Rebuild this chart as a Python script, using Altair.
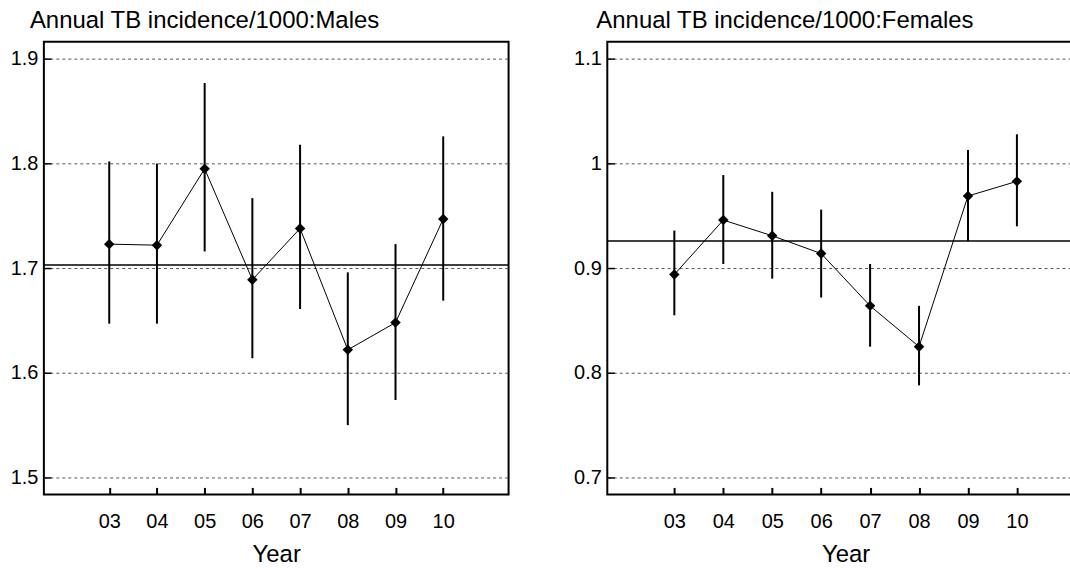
import altair as alt
import pandas as pd

# Survey years shown on the x axis
years = ["03", "04", "05", "06", "07", "08", "09", "10"]
year_num = [int(y) for y in years]

# Males: annual TB incidence per 1000 with 95% limits
males_rate = [1.723, 1.722, 1.795, 1.689, 1.738, 1.622, 1.648, 1.747]
males_lo = [1.647, 1.647, 1.716, 1.614, 1.661, 1.550, 1.574, 1.669]
males_hi = [1.802, 1.800, 1.877, 1.767, 1.818, 1.696, 1.723, 1.826]
males_mean = [1.703]
males_ticks = [1.5, 1.6, 1.7, 1.8, 1.9]

# Females: annual TB incidence per 1000 with 95% limits
females_rate = [0.894, 0.946, 0.931, 0.914, 0.864, 0.825, 0.969, 0.983]
females_lo = [0.855, 0.904, 0.890, 0.872, 0.825, 0.788, 0.926, 0.940]
females_hi = [0.936, 0.989, 0.973, 0.956, 0.904, 0.864, 1.013, 1.028]
females_mean = [0.926]
females_ticks = [0.7, 0.8, 0.9, 1.0, 1.1]

FONT = "Liberation Sans"
X_DOMAIN = [1.63, 11.37]


def panel(title, rate, lo, hi, mean, ticks, domain, width, title_dx):
    df = pd.DataFrame({"year": year_num, "rate": rate, "lo": lo, "hi": hi})
    mean_df = pd.DataFrame({"mean": mean})

    xaxis = alt.Axis(
        title="Year", values=year_num,
        labelExpr="(datum.value < 10 ? '0' : '') + datum.value",
        labelAngle=0, labelFontSize=20, labelColor="black",
        labelPadding=17, tickSize=7, offset=-7, tickWidth=2, tickColor="black",
        domain=False, grid=False, titleFontSize=24, titleFontWeight="normal",
        titleColor="black", titleY=74, titleBaseline="alphabetic",
    )
    yaxis = alt.Axis(
        title=None, values=ticks, format="~g", labelFontSize=20,
        labelColor="black", labelPadding=6, tickSize=7, offset=-7,
        tickWidth=1.5, tickColor="black", domain=False, grid=True,
        gridColor="#555555", gridDash=[3, 3], gridWidth=1,
    )
    xscale = alt.Scale(domain=X_DOMAIN, nice=False, zero=False)
    yscale = alt.Scale(domain=domain, nice=False, zero=False)

    x = alt.X("year:Q", scale=xscale, axis=xaxis)
    base = alt.Chart(df)

    hline = alt.Chart(mean_df).mark_rule(color="black", strokeWidth=1.5).encode(
        y=alt.Y("mean:Q", scale=yscale, axis=yaxis, title=None)
    )
    bars = base.mark_rule(color="black", strokeWidth=2).encode(
        x=x, y=alt.Y("lo:Q", scale=yscale, title=None), y2="hi:Q"
    )
    line = base.mark_line(color="black", strokeWidth=1).encode(
        x=x, y=alt.Y("rate:Q", scale=yscale, title=None)
    )
    pts = base.mark_point(
        shape="diamond", filled=True, size=110, color="black", opacity=1
    ).encode(x=x, y=alt.Y("rate:Q", scale=yscale, title=None))

    return alt.layer(hline, bars, line, pts).properties(
        width=width,
        height=454,
        title=alt.TitleParams(
            text=title, anchor="start", frame="group", dx=title_dx, dy=23,
            fontSize=24, fontWeight="normal", font=FONT, color="black",
            baseline="alphabetic", offset=13,
        ),
    )


left = panel("Annual TB incidence/1000:Males", males_rate, males_lo, males_hi,
             males_mean, males_ticks, [1.4838, 1.9165], 466, -14)
right = panel("Annual TB incidence/1000:Females", females_rate, females_lo,
              females_hi, females_mean, females_ticks, [0.6838, 1.1165], 478, -11)

# The Females frame runs past the right edge of the page, so the right
# padding is negative and the page keeps its 1070 px width.
chart = (
    alt.hconcat(left, right, spacing=62)
    .properties(padding={"left": 9, "top": 7, "right": -16, "bottom": 0})
    .configure(font=FONT)
    .configure_view(stroke="black", strokeWidth=2)
)

chart.save("out.html", embed_options={"renderer": "svg", "actions": False})
